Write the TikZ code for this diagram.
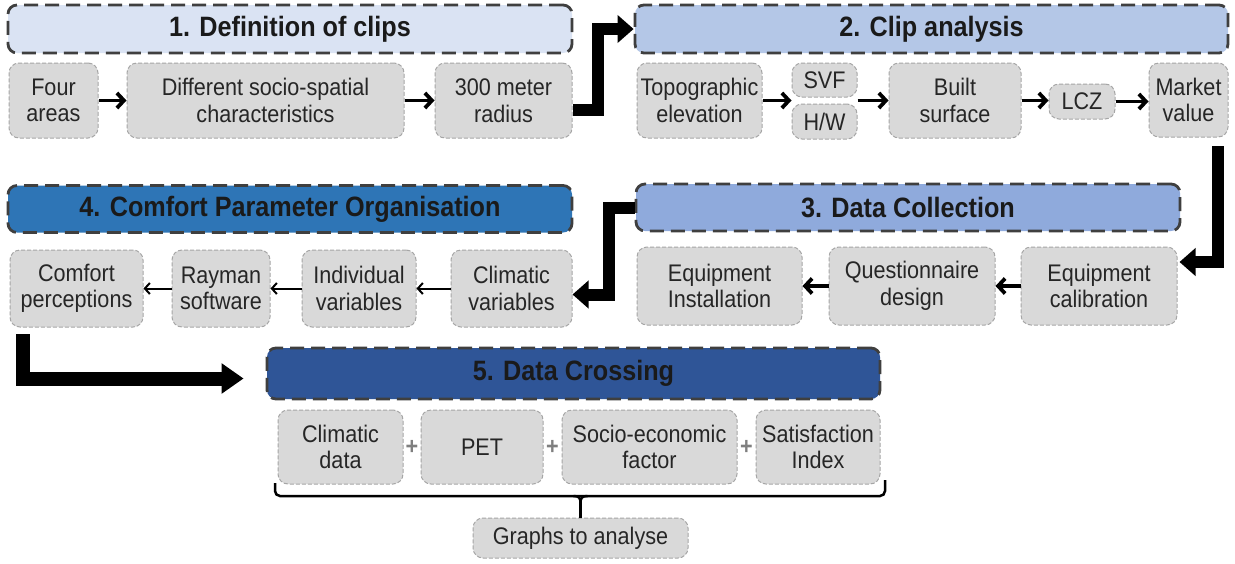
\documentclass[tikz,border=0pt]{standalone}
\usepackage{fontspec}
\setmainfont[FakeStretch=0.9]{Liberation Sans}
\usetikzlibrary{arrows.meta,calc}
\definecolor{hdrone}{HTML}{DAE3F3}
\definecolor{hdrtwo}{HTML}{B4C7E7}
\definecolor{hdrthree}{HTML}{8FAADC}
\definecolor{hdrfour}{HTML}{2E75B6}
\definecolor{hdrfive}{HTML}{2F5597}
\definecolor{hdrborder}{HTML}{3F3F3F}
\definecolor{boxfill}{HTML}{D9D9D9}
\definecolor{boxborder}{HTML}{A6A6A6}
\definecolor{boxtext}{HTML}{262626}
\definecolor{titletext}{HTML}{1A1A1A}
\definecolor{plusgray}{HTML}{7F7F7F}
\begin{document}
\begin{tikzpicture}[x=1pt,y=-1pt,
  header/.style={draw=hdrborder, line width=2.8pt, dash pattern=on 14pt off 7pt,
    rounded corners=9pt, inner sep=0pt, text=titletext,
    font=\fontsize{28}{30}\selectfont\bfseries},
  itembox/.style={draw=boxborder, fill=boxfill, line width=1pt, dash pattern=on 4pt off 2pt,
    rounded corners=10pt, inner sep=0pt, align=center, text=boxtext,
    font=\fontsize{24}{26.5}\selectfont},
  midarrow/.style={line width=3.8pt, -{Straight Barb[length=7pt,width=15pt]}},
  midarrowl/.style={line width=3.8pt, {Straight Barb[length=7pt,width=15pt]}-},
  thinarrowl/.style={line width=2pt, {Straight Barb[length=5pt,width=11pt]}-},
  bigarrow/.style={line width=12pt, -{Triangle[length=16pt,width=27pt]}},
  bracestyle/.style={line width=2.5pt, black},
  plussign/.style={text=plusgray, inner sep=0pt, font=\fontsize{24}{24}\selectfont\bfseries}
]
\useasboundingbox[fill=white] (0,0) rectangle (1235,563);

% ---------- Stage 1 ----------
\node[header, fill=hdrone, minimum width=564pt, minimum height=48pt] (h1) at (290,29) {1. Definition of clips};
\node[itembox, minimum width=89pt, minimum height=75pt] (b11) at (53.5,100.5) {Four\\areas};
\node[itembox, minimum width=277pt, minimum height=75pt] (b12) at (265.5,100.5) {Different socio-spatial\\characteristics};
\node[itembox, minimum width=137pt, minimum height=75pt] (b13) at (503.5,100.5) {300 meter\\radius};
\draw[midarrow] (b11) -- (b12);
\draw[midarrow] (b12) -- (b13);

% ---------- Stage 2 ----------
\node[header, fill=hdrtwo, minimum width=593pt, minimum height=48pt] (h2) at (931.5,29) {2. Clip analysis};
\node[itembox, minimum width=125pt, minimum height=75pt] (b21) at (699.5,100.5) {Topographic\\elevation};
\node[itembox, minimum width=65pt, minimum height=34pt] (b22) at (824.5,80) {SVF};
\node[itembox, minimum width=65pt, minimum height=35pt] (b23) at (824.5,121.5) {H/W};
\node[itembox, minimum width=132pt, minimum height=75pt] (b24) at (955,100.5) {Built\\surface};
\node[itembox, minimum width=66pt, minimum height=35pt] (b25) at (1082,101.5) {LCZ};
\node[itembox, minimum width=79pt, minimum height=74pt] (b26) at (1188.5,100) {Market\\value};
\draw[midarrow] (b21.east) -- (b21.east -| b22.west);
\draw[midarrow] (b24.west -| b22.east) -- (b24.west);
\draw[midarrow] (b24.east) -- (b24.east -| b25.west);
\draw[midarrow] (b25.east) -- (b25.east -| b26.west);

% ---------- Stage 3 ----------
\node[header, fill=hdrthree, minimum width=544pt, minimum height=47pt] (h3) at (908,207.5) {3. Data Collection};
\node[itembox, minimum width=165pt, minimum height=78pt] (b31) at (719.5,286) {Equipment\\Installation};
\node[itembox, minimum width=166pt, minimum height=78pt] (b32) at (912,286) {Questionnaire\\design};
\node[itembox, minimum width=156pt, minimum height=78pt] (b33) at (1099,286) {Equipment\\calibration};
\draw[midarrowl] (b31) -- (b32);
\draw[midarrowl] (b32) -- (b33);

% ---------- Stage 4 ----------
\node[header, fill=hdrfour, minimum width=564pt, minimum height=47pt] (h4) at (290,209) {4. Comfort Parameter Organisation};
\node[itembox, minimum width=133pt, minimum height=77pt] (b41) at (76.5,288.5) {Comfort\\perceptions};
\node[itembox, minimum width=98pt, minimum height=77pt] (b42) at (221,288.5) {Rayman\\software};
\node[itembox, minimum width=114pt, minimum height=77pt] (b43) at (359,288.5) {Individual\\variables};
\node[itembox, minimum width=121pt, minimum height=77pt] (b44) at (511.5,288.5) {Climatic\\variables};
\draw[thinarrowl] (b41) -- (b42);
\draw[thinarrowl] (b42) -- (b43);
\draw[thinarrowl] (b43) -- (b44);

% ---------- Stage 5 ----------
\node[header, fill=hdrfive, minimum width=613pt, minimum height=51pt] (h5) at (573.5,373.5) {5. Data Crossing};
\node[itembox, minimum width=125pt, minimum height=74pt] (b51) at (340.5,447) {Climatic\\data};
\node[itembox, minimum width=122pt, minimum height=74pt] (b52) at (482,447) {PET};
\node[itembox, minimum width=175pt, minimum height=74pt] (b53) at (649.5,447) {Socio-economic\\factor};
\node[itembox, minimum width=124pt, minimum height=74pt] (b54) at (818,447) {Satisfaction\\Index};
\node[plussign] (p1) at ($(b51.east)!0.5!(b52.west)$) {+};
\node[plussign] (p2) at ($(b52.east)!0.5!(b53.west)$) {+};
\node[plussign] (p3) at ($(b53.east)!0.5!(b54.west)$) {+};
\node[itembox, minimum width=215pt, minimum height=40pt] (gr) at (580.5,538) {Graphs to analyse};

% brace
\coordinate (brL) at (275,483);
\coordinate (brR) at (885,480);
\coordinate (brM) at (580.5,496);
\draw[bracestyle, rounded corners=5pt] (brL) |- (brM) -| (brR);
\draw[bracestyle] ($(brM)+(-7,0)$) .. controls ($(brM)+(-1,0)$) and ($(brM)+(0,2)$) .. ($(brM)+(0,8)$);
\draw[bracestyle] ($(brM)+(7,0)$) .. controls ($(brM)+(1,0)$) and ($(brM)+(0,2)$) .. ($(brM)+(0,8)$);
\draw[bracestyle] ($(brM)+(0,8)$) -- (gr.north);

% ---------- Big connectors ----------
\draw[bigarrow] ([yshift=-9pt]b13.east) -- ++(25,0) |- (h2.west);
\coordinate (c2s) at (1218,146);
\draw[bigarrow, shorten >=2pt] (c2s) |- ([yshift=24pt]b33.east);
\draw[bigarrow] (h3.west) -- ++(-26,0) |- ([yshift=-6pt]b44.east);
\coordinate (c4s) at (22.5,334);
\draw[line width=14pt, -{Triangle[length=22pt,width=29pt]}, shorten >=22pt] (c4s) |- ([yshift=-5pt]h5.west);
\end{tikzpicture}
\end{document}
